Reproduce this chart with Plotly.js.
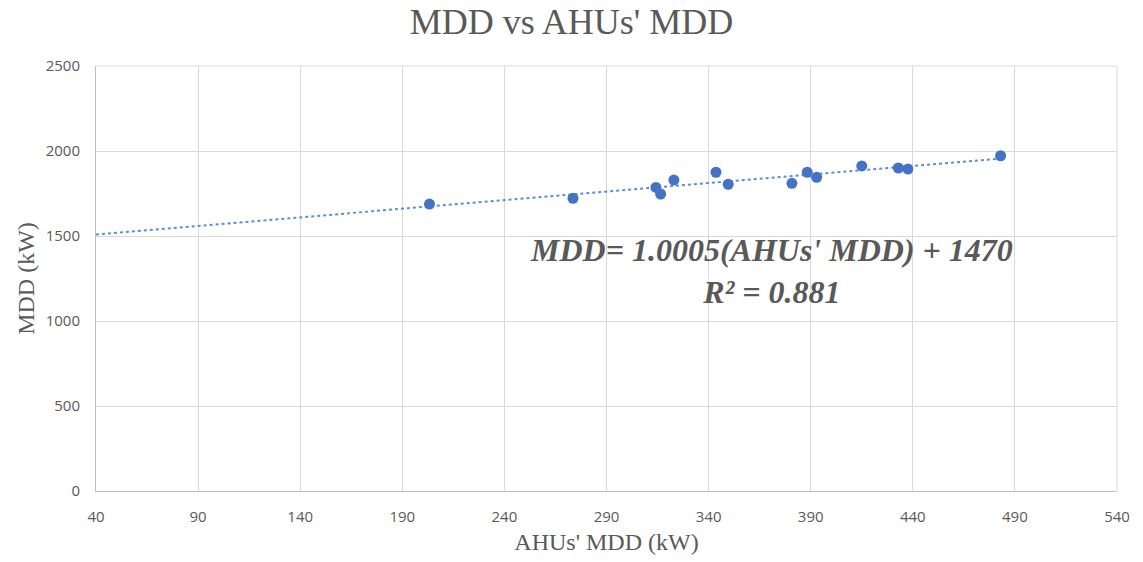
<!DOCTYPE html>
<html>
<head>
<meta charset="utf-8">
<script src="https://cdn.plot.ly/plotly-3.0.1.min.js"></script>
<style>html,body{margin:0;padding:0;background:#fff;}#chart{width:1143px;height:562px;}</style>
</head>
<body>
<div id="chart"></div>
<script>
const ahuMDD = [203.3, 273.6, 314.2, 316.5, 323.0, 343.6, 349.6, 380.8, 388.3, 392.9, 415.0, 432.9, 437.6, 483.0];
const mdd    = [1688, 1722, 1786, 1747, 1829, 1875, 1804, 1810, 1875, 1845, 1912, 1900, 1894, 1972];
const xTicks = [40, 90, 140, 190, 240, 290, 340, 390, 440, 490, 540];
const yTicks = [0, 500, 1000, 1500, 2000, 2500];
const trendStartX = 40;
const equationLines = ["MDD= 1.0005(AHUs' MDD) + 1470", "R² = 0.881"];

// least-squares linear trendline (like the spreadsheet trendline)
const n = ahuMDD.length;
const mx = ahuMDD.reduce((a,b)=>a+b,0)/n;
const my = mdd.reduce((a,b)=>a+b,0)/n;
let sxy = 0, sxx = 0;
for (let i=0;i<n;i++){ sxy += (ahuMDD[i]-mx)*(mdd[i]-my); sxx += (ahuMDD[i]-mx)**2; }
const slope = sxy/sxx, icpt = my - slope*mx;
const trendX = [trendStartX, Math.max(...ahuMDD)];
const trendY = trendX.map(x => slope*x + icpt);

const grey = '#595959';
const serif = 'Liberation Serif, Times New Roman, serif';
const sans = 'Open Sans, DejaVu Sans, sans-serif';
const data = [
  {x: trendX, y: trendY, type:'scatter', mode:'lines',
   line:{color:'#5b8fd0', width:2, dash:'dot'}, hoverinfo:'skip', showlegend:false},
  {x: ahuMDD, y: mdd, type:'scatter', mode:'markers',
   marker:{color:'#4472c4', size:11}, showlegend:false}
];
const layout = {
  width:1143, height:562,
  margin:{l:96, r:26, t:66, b:71},
  paper_bgcolor:'#fff', plot_bgcolor:'#fff',
  title:{text:"MDD vs AHUs' MDD", x:0.5, xanchor:'center', y:0.962, yanchor:'middle',
         font:{family:serif, size:36, color:grey}},
  xaxis:{range:[40,540], tickvals:xTicks, ticktext:xTicks.map(String),
         showgrid:true, gridcolor:'#d9d9d9', gridwidth:1, zeroline:false,
         showline:true, linecolor:'#bfbfbf', linewidth:1,
         ticks:'outside', ticklen:12, tickcolor:'rgba(0,0,0,0)',
         tickfont:{family:sans, size:15, color:grey},
         title:{text:"AHUs' MDD (kW)", standoff:8,
                font:{family:serif, size:24, color:grey}}},
  yaxis:{range:[0,2500], tickvals:yTicks, ticktext:yTicks.map(String),
         showgrid:true, gridcolor:'#d9d9d9', gridwidth:1, zeroline:false,
         showline:true, linecolor:'#bfbfbf', linewidth:1,
         ticks:'outside', ticklen:12, tickcolor:'rgba(0,0,0,0)',
         tickfont:{family:sans, size:15, color:grey},
         title:{text:"MDD (kW)", standoff:4,
                font:{family:serif, size:24, color:grey}}},
  shapes:[
    {type:'line', xref:'paper', yref:'paper', x0:1, x1:1, y0:0, y1:1, line:{color:'#d9d9d9', width:1}},
    {type:'line', xref:'paper', yref:'paper', x0:0, x1:1, y0:1, y1:1, line:{color:'#d9d9d9', width:1}}
  ],
  annotations:[
    {x:371, y:1295, xref:'x', yref:'y',
     text: equationLines.map(s => '<b><i>'+s+'</i></b>').join('<br>'),
     showarrow:false, align:'center',
     font:{family:serif, size:32, color:grey}}
  ]
};
Plotly.newPlot('chart', data, layout, {displayModeBar:false, staticPlot:true});
</script>
</body>
</html>
